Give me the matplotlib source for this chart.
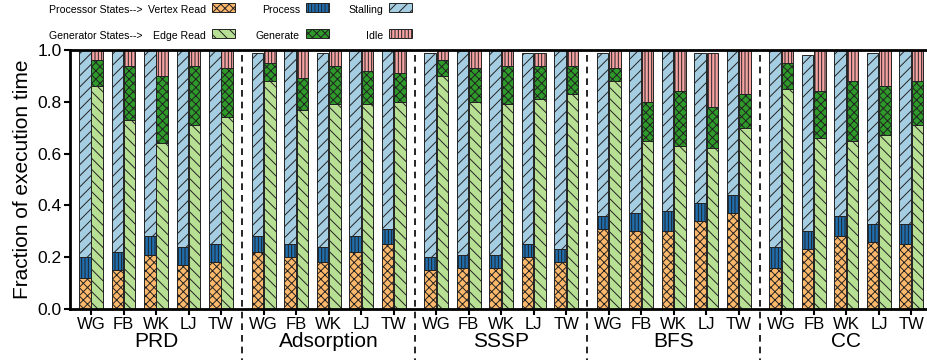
import matplotlib.pyplot as plt
import numpy as np
from matplotlib.patches import Rectangle
from matplotlib.lines import Line2D

plt.rcParams['font.family'] = ['Liberation Sans', 'DejaVu Sans']
plt.rcParams['hatch.linewidth'] = 0.7

apps = ['PRD', 'Adsorption', 'SSSP', 'BFS', 'CC']
graphs = ['WG', 'FB', 'WK', 'LJ', 'TW']

# processor states (fractions), one row per app, one column per graph
vertex_read = [[.12, .15, .21, .17, .18],
               [.22, .20, .18, .22, .25],
               [.15, .16, .16, .20, .18],
               [.31, .30, .30, .34, .37],
               [.16, .23, .28, .26, .25]]
process = [[.08, .07, .07, .07, .07],
           [.06, .05, .06, .06, .06],
           [.05, .05, .05, .05, .05],
           [.05, .07, .08, .07, .07],
           [.08, .07, .08, .07, .08]]
stalling = [[.80, .78, .72, .76, .75],
            [.71, .75, .75, .72, .69],
            [.79, .79, .79, .74, .77],
            [.63, .63, .62, .58, .56],
            [.76, .68, .64, .66, .67]]
# generator states
edge_read = [[.86, .73, .64, .71, .74],
             [.88, .77, .79, .79, .80],
             [.90, .80, .79, .81, .83],
             [.88, .65, .63, .62, .70],
             [.85, .66, .65, .67, .71]]
generate = [[.10, .21, .26, .23, .19],
            [.07, .12, .15, .13, .11],
            [.06, .13, .15, .13, .11],
            [.05, .15, .21, .16, .13],
            [.10, .18, .23, .19, .17]]
idle = [[.04, .06, .10, .06, .07],
        [.05, .11, .06, .08, .09],
        [.04, .07, .06, .05, .06],
        [.07, .20, .16, .21, .17],
        [.05, .16, .12, .14, .12]]

styles = {
    'Vertex Read': ('#fdb96b', 'xxxx'),
    'Process': ('#1f6fb0', '|||||'),
    'Stalling': ('#a6cee3', '///'),
    'Edge Read': ('#b8e094', '\\\\\\'),
    'Generate': ('#2e9a2a', 'xxxx'),
    'Idle': ('#f7a3a3', '|||||'),
}

GAP = 0.31
W = 0.355
OFF = 0.19

fig = plt.figure(figsize=(9.27, 3.6), dpi=100)
ax = fig.add_axes([70 / 927, 1 - 309 / 360, 1 - 70 / 927, 259 / 360])

pos = np.array([[g * (5 + GAP) + j for j in range(5)] for g in range(5)])
flat = pos.ravel()


def stack(x, parts, names):
    bottom = np.zeros(len(x))
    for vals, name in zip(parts, names):
        vals = np.array(vals).ravel()
        col, hat = styles[name]
        ax.bar(x, vals, W, bottom=bottom, color=col, hatch=hat,
               edgecolor='#222222', linewidth=0.7, zorder=2)
        bottom += vals


stack(flat - OFF, [vertex_read, process, stalling], ['Vertex Read', 'Process', 'Stalling'])
stack(flat + OFF, [edge_read, generate, idle], ['Edge Read', 'Generate', 'Idle'])

ax.set_xlim(-0.646, 25.72)
ax.set_ylim(0, 1.0)
ax.set_yticks(np.arange(0, 1.01, 0.2))
ax.set_yticklabels([f'{v:.1f}' for v in np.arange(0, 1.01, 0.2)])
ax.set_xticks(flat)
ax.set_xticklabels(graphs * 5)
ax.tick_params(axis='both', labelsize=12, width=1.5, length=4, pad=2)
ax.tick_params(axis='y', labelsize=12.5)
ax.set_ylabel('Fraction of execution time', fontsize=15, labelpad=4)

for s in ['left', 'bottom', 'top']:
    ax.spines[s].set_linewidth(2)
ax.spines['right'].set_visible(False)

for g in range(4):
    xd = pos[g, 4] + (GAP + 1) / 2
    ax.add_line(Line2D([xd, xd], [0.98, -0.2], color='black', lw=1.2,
                       linestyle=(0, (4, 3)), clip_on=False))
for g, name in enumerate(apps):
    ax.text(pos[g, 2], -0.145, name, ha='center', va='baseline', fontsize=15)

# legend built by hand
rows = [('Processor States-->', ['Vertex Read', 'Process', 'Stalling']),
        ('Generator States-->', ['Edge Read', 'Generate', 'Idle'])]
patch_x = [212, 306, 389]
for r, (head, names) in enumerate(rows):
    yc = 10 + r * 26
    fig.text(49 / 927, 1 - yc / 360, head, fontsize=7.6, va='center', ha='left')
    for name, px in zip(names, patch_x):
        col, hat = styles[name]
        fig.text((px - 6) / 927, 1 - yc / 360, name, fontsize=7.6, va='center',
                 ha='right')
        fig.patches.append(Rectangle((px / 927, 1 - (yc + 2) / 360), 23 / 927, 9 / 360,
                                     transform=fig.transFigure, facecolor=col,
                                     hatch=hat, edgecolor='#222222', linewidth=0.7))

fig.savefig('out.png', dpi=100)
